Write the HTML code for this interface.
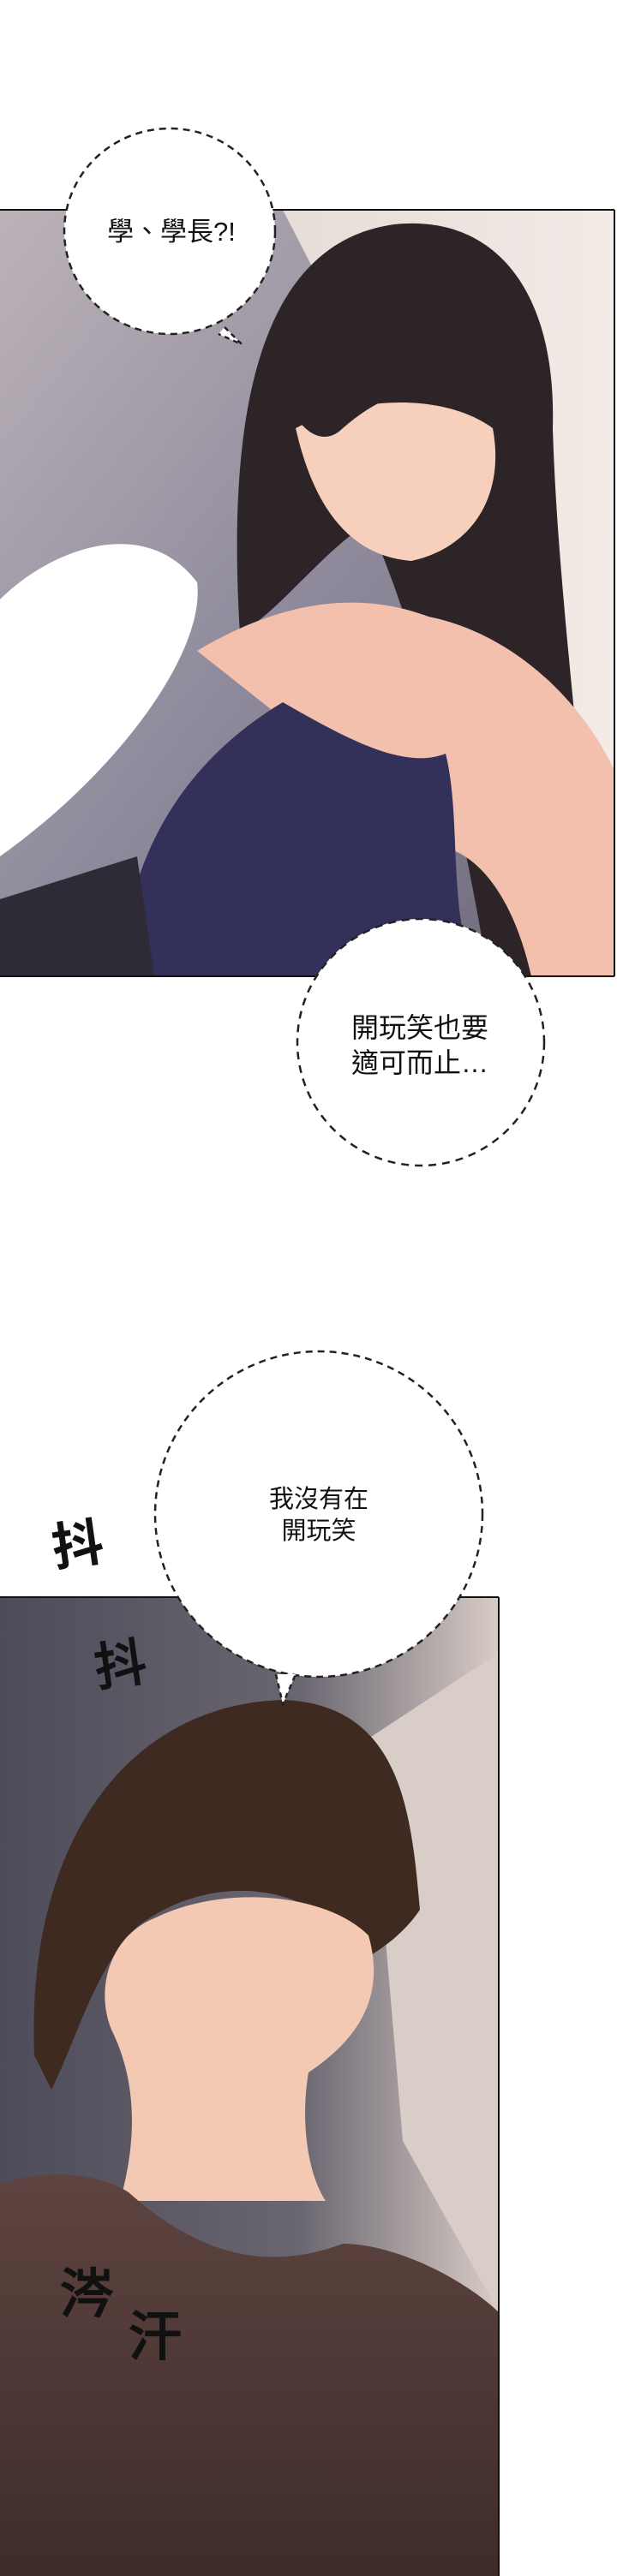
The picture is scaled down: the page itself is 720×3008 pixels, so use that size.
<!DOCTYPE html>
<html><head><meta charset="utf-8"><style>
html,body{margin:0;padding:0;background:#fff}
svg{display:block}
text{font-family:"Liberation Sans","Noto Sans CJK TC",sans-serif;fill:#111}
</style></head><body>
<svg width="720" height="3008" viewBox="0 0 720 3008" xmlns="http://www.w3.org/2000/svg">
<defs>
<linearGradient id="bg1" x1="0" y1="0" x2="1" y2="1">
<stop offset="0" stop-color="#bcb2b8"/><stop offset="0.5" stop-color="#8e8a9c"/><stop offset="1" stop-color="#6c6878"/>
</linearGradient>
<linearGradient id="wall" x1="0" y1="0" x2="1" y2="0">
<stop offset="0" stop-color="#e6dcd8"/><stop offset="1" stop-color="#f2ebe6"/>
</linearGradient>
<linearGradient id="bg2" x1="0" y1="0" x2="1" y2="0">
<stop offset="0" stop-color="#4e4c5a"/><stop offset="0.6" stop-color="#6a6670"/><stop offset="1" stop-color="#d8ccc6"/>
</linearGradient>
<linearGradient id="shirt" x1="0" y1="0" x2="0" y2="1">
<stop offset="0" stop-color="#5e4440"/><stop offset="1" stop-color="#3e2c2a"/>
</linearGradient>
</defs>

<!-- Panel 1 -->
<rect x="0" y="245" width="717" height="895" fill="url(#bg1)"/>
<polygon points="330,245 717,245 717,900 560,700 420,420" fill="url(#wall)"/>
<path d="M0,700 C60,640 170,600 230,680 C240,760 140,900 0,1000 Z" fill="#fff"/>
<!-- hair -->
<path d="M280,740 C260,420 330,280 460,262 C570,250 650,330 645,500 C650,660 670,820 700,1140 L570,1140 C530,900 480,720 430,610 C370,650 330,710 280,740 Z" fill="#2c2426"/>
<!-- skin arms/shoulders -->
<path d="M230,760 C330,700 420,690 500,720 C600,740 680,820 717,900 L717,1140 L620,1140 C600,1050 560,1000 520,990 Z" fill="#f2c0ac"/>
<!-- face -->
<path d="M345,500 C420,460 520,460 575,500 C590,580 550,640 480,655 C420,650 370,610 345,500 Z" fill="#f6d0bc"/>
<path d="M335,470 C370,370 520,360 600,450 C560,445 480,430 400,500 C380,520 355,510 335,470 Z" fill="#2c2426"/>
<!-- top -->
<path d="M140,1140 C150,980 230,880 330,820 C400,860 470,900 520,880 C540,960 520,1080 560,1140 Z" fill="#33305a"/>
<path d="M0,1050 L160,1000 L180,1140 L0,1140 Z" fill="#2e2a36"/>
<line x1="0" y1="245" x2="717" y2="245" stroke="#111" stroke-width="2"/>
<line x1="0" y1="1140" x2="717" y2="1140" stroke="#111" stroke-width="2"/>
<line x1="717" y1="245" x2="717" y2="1140" stroke="#111" stroke-width="2"/>

<!-- Bubble 1 -->
<ellipse cx="198" cy="270" rx="123" ry="120" fill="#fff" stroke="#222" stroke-width="2.5" stroke-dasharray="8,6"/>
<path d="M262,382 L282,402 L255,390" fill="#fff" stroke="#222" stroke-width="2.5" stroke-dasharray="6,5"/>
<text x="200" y="281" font-size="31" text-anchor="middle">學、學長?!</text>

<!-- Bubble 2 -->
<circle cx="491" cy="1217" r="144" fill="#fff" stroke="#222" stroke-width="2.5" stroke-dasharray="9,7"/>
<text x="410" y="1211" font-size="32">開玩笑也要</text>
<text x="410" y="1252" font-size="32">適可而止…</text>

<!-- Panel 2 -->
<rect x="0" y="1865" width="582" height="1143" fill="url(#bg2)"/>
<polygon points="430,2030 582,1930 582,2700 470,2500" fill="#d9cdc8"/>
<path d="M40,2400 C30,2150 150,1990 330,1985 C470,1990 480,2120 490,2230 C470,2260 440,2280 420,2290 C380,2200 250,2180 160,2250 C110,2300 90,2380 60,2440 Z" fill="#3f2a22"/>
<path d="M180,2240 C260,2200 380,2210 430,2260 C450,2330 420,2380 360,2420 C350,2480 360,2540 380,2570 L140,2570 C160,2500 160,2430 130,2370 C110,2320 130,2260 180,2240 Z" fill="#f4c9b4"/>
<path d="M0,2550 C60,2530 120,2540 150,2560 C240,2640 320,2650 400,2620 C460,2620 540,2660 582,2700 L582,3008 L0,3008 Z" fill="url(#shirt)"/>
<line x1="0" y1="1865" x2="582" y2="1865" stroke="#111" stroke-width="2"/>
<line x1="582" y1="1865" x2="582" y2="3008" stroke="#111" stroke-width="2"/>

<text x="60" y="1825" font-size="60" font-weight="bold" transform="rotate(-8 90 1800)">抖</text>
<text x="110" y="1965" font-size="60" fill="#fff" stroke="#111" stroke-width="2" transform="rotate(-8 140 1940)">抖</text>
<text x="70" y="2700" font-size="62" fill="#fff" stroke="#111" stroke-width="2">涔</text>
<text x="150" y="2750" font-size="62" fill="#fff" stroke="#111" stroke-width="2">汗</text>

<!-- Bubble 3 -->
<ellipse cx="372" cy="1768" rx="191" ry="190" fill="#fff" stroke="#222" stroke-width="2.5" stroke-dasharray="8,6"/>
<path d="M322,1955 L330,1990 L345,1955" fill="#fff" stroke="#222" stroke-width="2.5" stroke-dasharray="6,5"/>
<text x="372" y="1760" font-size="29" text-anchor="middle">我沒有在</text>
<text x="372" y="1797" font-size="29" text-anchor="middle">開玩笑</text>
</svg>
</body></html>
